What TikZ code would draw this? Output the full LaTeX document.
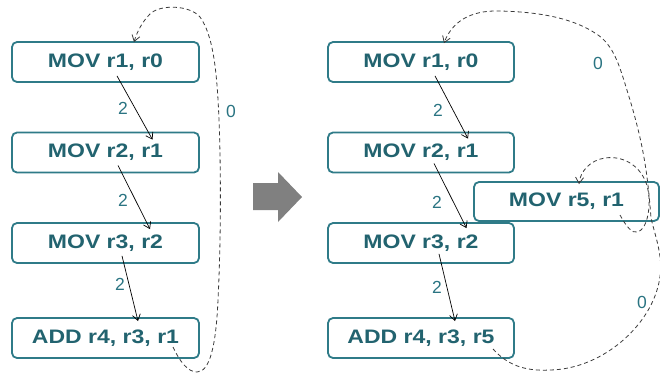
\documentclass[tikz,border=0pt]{standalone}
\usepackage{fontspec}
\usetikzlibrary{arrows.meta,calc}
\newfontfamily\boxfont[FakeStretch=1.18]{Liberation Sans}
\newfontfamily\lblfont{Liberation Sans}
\definecolor{boxline}{HTML}{2F7B88}
\definecolor{boxtext}{HTML}{22636F}
\definecolor{lbltext}{HTML}{2A7482}
\definecolor{dashgray}{HTML}{3A3A3A}
\definecolor{blockgray}{HTML}{808080}
\tikzset{
  instr/.style={draw=boxline, line width=1.8pt, rounded corners=5pt, fill=white,
    minimum width=187pt, minimum height=40pt, inner sep=0pt,
    text=boxtext, font=\boxfont\bfseries\fontsize{19.5}{22}\selectfont},
  dep/.style={draw=black, line width=0.7pt, -{Straight Barb[length=6pt,width=8pt]}},
  loopdep/.style={draw=dashgray, line width=0.8pt, dash pattern=on 4pt off 3pt,
    -{Straight Barb[length=6pt,width=8pt]}},
  lat/.style={text=lbltext, font=\lblfont\fontsize{17.5}{20}\selectfont, inner sep=0pt}
}
\begin{document}
\begin{tikzpicture}[x=1pt,y=-1pt]
\clip (0,0) rectangle (660,376);
\useasboundingbox (0,0) rectangle (660,376);

% original sequence
\node[instr] (l1) at (105.5,62)    {MOV r1, r0};
\node[instr] (l2) at (105.5,152.5) {MOV r2, r1};
\node[instr] (l3) at (105.5,243)   {MOV r3, r2};
\node[instr] (l4) at (105.5,338)   {ADD r4, r3, r1};

% transformed sequence
\node[instr, minimum width=186pt] (r1) at (421,62)    {MOV r1, r0};
\node[instr, minimum width=186pt] (r2) at (421,152.5) {MOV r2, r1};
\node[instr, minimum width=186pt] (r3) at (421,243)   {MOV r3, r2};
\node[instr, minimum width=186pt] (r4) at (421,338)   {ADD r4, r3, r5};
\node[instr, minimum width=185pt, minimum height=39pt] (m5) at (566.5,201.5) {MOV r5, r1};

% block arrow between the two sequences
\fill[blockgray] (253,183) -- (278,183) -- (278,172) -- (302,197) -- (278,222)
  -- (278,210) -- (253,210) -- cycle;

% dependence edges, left
\draw[dep] ([shift={(11.5,-7)}]l1.south) -- ([shift={(47,8)}]l2.north);
\draw[dep] ([shift={(12.5,-8)}]l2.south) -- ([shift={(44.5,7)}]l3.north);
\draw[dep] ([shift={(16.5,-8)}]l3.south) -- ([shift={(32.5,4)}]l4.north);
\node[lat] at (123,108) {2};
\node[lat] at (123,200) {2};
\node[lat] at (120,284) {2};

% dependence edges, right
\draw[dep] ([shift={(14,-7)}]r1.south) -- ([shift={(47,7)}]r2.north);
\draw[dep] ([shift={(13,-10)}]r2.south) -- ([shift={(45.5,6)}]r3.north);
\draw[dep] ([shift={(18,-10)}]r3.south) -- ([shift={(34,4)}]r4.north);
\node[lat] at (438,110) {2};
\node[lat] at (437,202) {2};
\node[lat] at (437,287) {2};

% loop-carried dependence, left
\coordinate (ls) at ([shift={(67.5,9)}]l4.center);
\coordinate (le) at ([shift={(28.5,1)}]l1.north);
\draw[loopdep] (ls) .. controls (180,362) and (188,372) .. (197,372)
  .. controls (210,372) and (216,345) .. (218,300)
  .. controls (221,240) and (221,170) .. (219,120)
  .. controls (217,70) and (213,35) .. (200,17)
  .. controls (190,5) and (160,4) .. (150,14)
  .. controls (142,22) and (137,32) .. (le);
\node[lat] at (231,111) {0};

% loop-carried dependence, right
\coordinate (rs) at ([shift={(72,11)}]r4.center);
\coordinate (re) at ([shift={(23,2)}]r1.north);
\draw[loopdep] (rs) .. controls (510,368) and (530,371) .. (550,370)
  .. controls (600,369) and (645,330) .. (657,290)
  .. controls (666,262) and (656,240) .. (651,218)
  .. controls (648,180) and (645,150) .. (630,100)
  .. controls (620,68) and (615,45) .. (595,33)
  .. controls (575,20) and (545,12) .. (500,11)
  .. controls (470,10) and (452,22) .. (re);
\node[lat] at (598,63) {0};
\node[lat] at (642,302) {0};

% self dependence of the new move
\coordinate (ms) at ([shift={(53.5,13.5)}]m5.center);
\coordinate (me) at ([shift={(12.5,3)}]m5.north);
\draw[loopdep] (ms) .. controls (626,226) and (632,234) .. (638,232)
  .. controls (648,228) and (651,205) .. (648,190)
  .. controls (644,168) and (625,155) .. (605,158)
  .. controls (590,160) and (580,172) .. (me);
\end{tikzpicture}
\end{document}
